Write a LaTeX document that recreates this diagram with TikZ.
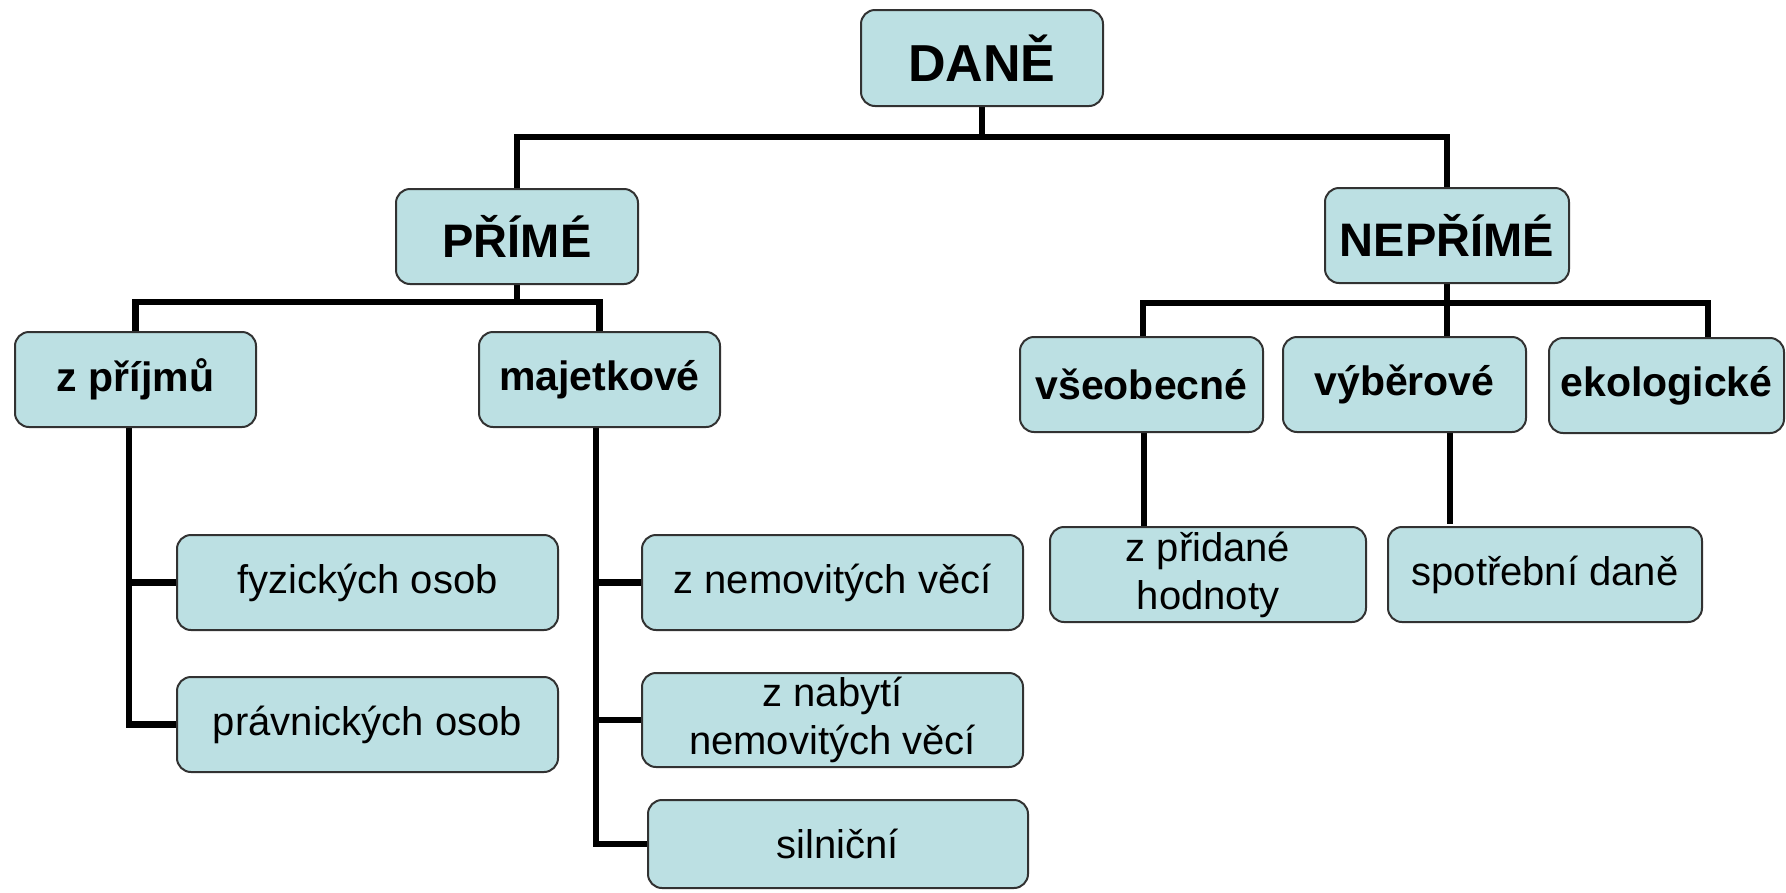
\documentclass[tikz,border=0pt]{standalone}
\usepackage{fontspec}
\setmainfont{Liberation Sans}
\pgfdeclarelayer{background}
\pgfsetlayers{background,main}
\definecolor{boxfill}{RGB}{188,224,227}
\definecolor{boxline}{RGB}{50,50,50}
\tikzset{
  box/.style={draw=boxline, line width=2pt, fill=boxfill, rounded corners=14pt,
    inner sep=0pt, align=center, font=\fontsize{40}{48}\selectfont},
  head/.style={box, font=\fontsize{47}{52}\selectfont\bfseries},
  mid/.style={box, font=\fontsize{41}{46}\selectfont\bfseries},
  conn/.style={draw=black, line width=6.5pt, line join=miter},
}
\begin{document}
\begin{tikzpicture}[x=1pt,y=1pt]
\useasboundingbox (0,0) rectangle (1786,-892);
% top levels
\node[box, font=\fontsize{52}{56}\selectfont\bfseries, minimum width=242, minimum height=96] (dane) at (982,-58) {DANĚ};
\node[head, minimum width=242, minimum height=95] (prime) at (517,-236.5) {PŘÍMÉ};
\node[head, minimum width=244, minimum height=95] (neprime) at (1447,-235.5) {NEPŘÍMÉ};
% second level
\node[mid, minimum width=241, minimum height=95] (zprijmu) at (135.5,-379.5) {z příjmů};
\node[mid, minimum width=241, minimum height=95] (majetkove) at (599.5,-379.5) {majetkové};
\node[mid, minimum width=243, minimum height=95] (vseobecne) at (1141.5,-384.5) {všeobecné};
\node[mid, minimum width=243, minimum height=95] (vyberove) at (1404.5,-384.5) {výběrové};
\node[mid, minimum width=235, minimum height=95] (ekologicke) at (1666.5,-385.5) {ekologické};
% leaves
\node[box, minimum width=381, minimum height=95] (fyzicke) at (367.5,-582.5) {fyzických osob};
\node[box, minimum width=381, minimum height=95] (pravnicke) at (367.5,-724.5) {právnických osob};
\node[box, minimum width=381, minimum height=95] (nemovite) at (832.5,-582.5) {z nemovitých věcí};
\node[box, minimum width=381, minimum height=94] (nabyti) at (832.5,-720) {z nabytí\\nemovitých věcí};
\node[box, minimum width=380, minimum height=88] (silnicni) at (838,-844) {silniční};
\node[box, minimum width=316, minimum height=95] (pridane) at (1208,-574.5) {z přidané\\hodnoty};
\node[box, minimum width=314, minimum height=95] (spotrebni) at (1545,-574.5) {spotřební daně};
% connectors
\coordinate (j1) at (982,-137);
\coordinate (j2) at (517,-302);
\coordinate (j3) at (1447,-303);
\begin{pgfonlayer}{background}
\draw[conn] (dane.south) -- (j1);
\draw[conn] (prime.north) |- (j1) -| (neprime.north);
\draw[conn] (prime.south) -- (j2);
\draw[conn] (zprijmu.north) |- (j2) -| (majetkove.north);
\draw[conn] (neprime.south) -- (vyberove.north -| neprime.south);
\draw[conn] ([xshift=1.5pt]vseobecne.north) |- (j3) -| ([xshift=41.5pt]ekologicke.north);
\draw[conn] ([xshift=-6.5pt]zprijmu.south) |- (fyzicke.west);
\draw[conn] ([xshift=-6.5pt]zprijmu.south) |- (pravnicke.west);
\draw[conn] ([xshift=-3.5pt]majetkove.south) |- (nemovite.west);
\draw[conn] ([xshift=-3.5pt]majetkove.south) |- (nabyti.west);
\draw[conn] ([xshift=-3.5pt]majetkove.south) |- (silnicni.west);
\draw[conn] ([xshift=2.5pt]vseobecne.south) -- ([xshift=2.5pt]vseobecne.south |- pridane.north);
\draw[conn] ([xshift=45.5pt]vyberove.south) -- ++(0,-91);
\end{pgfonlayer}
\end{tikzpicture}
\end{document}
